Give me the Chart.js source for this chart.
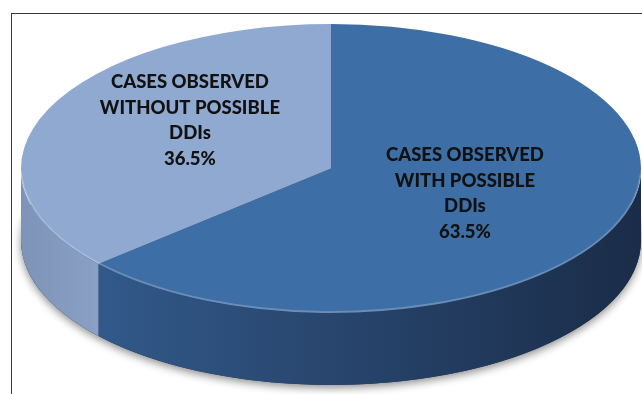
<!DOCTYPE html>
<html>
<head>
<meta charset="utf-8">
<script src="https://cdn.jsdelivr.net/npm/chart.js@4.4.1/dist/chart.umd.min.js"></script>
<style>
  html, body { margin: 0; padding: 0; background: #fff; width: 642px; height: 394px; overflow: hidden; }
  #frame { position: absolute; left: 11px; top: 13px; width: 640px; height: 390px;
           border-top: 1.5px solid #3a3a3a; border-left: 1.5px solid #3a3a3a; }
  #wrap { position: absolute; left: 0; top: 0; width: 642px; height: 394px; }
</style>
</head>
<body>
<div id="frame"></div>
<div id="wrap"><canvas id="pie"></canvas></div>
<script>
// data
const categories = ['CASES OBSERVED WITH POSSIBLE DDIs', 'CASES OBSERVED WITHOUT POSSIBLE DDIs'];
const labelLines = [
  ['CASES OBSERVED', 'WITH POSSIBLE', 'DDIs'],
  ['CASES OBSERVED', 'WITHOUT POSSIBLE', 'DDIs']
];
const percentages = [63.5, 36.5];

// look
const topColors = ['#3d6ea5', '#8fa9d0'];
const sideColors = [['#32598a', '#1a2c48'], ['#7d94b8', '#8aa0c4']];
const labelAnchor = [[0.432, 0.173], [-0.455, -0.332]]; // in units of the ellipse radii
const EL = { cx: 331, cy: 168.5, rx: 310, ry: 144.5, depth: 72 };

const pie3d = {
  id: 'pie3d',
  beforeDatasetsDraw(chart) {
    const ctx = chart.ctx;
    const arcs = chart.getDatasetMeta(0).data;
    const { cx, cy, rx, ry, depth } = EL;

    // soft shadow under the base
    ctx.save();
    ctx.shadowColor = 'rgba(0,0,0,0.45)';
    ctx.shadowBlur = 8;
    ctx.shadowOffsetY = 3;
    ctx.fillStyle = '#1d3350';
    ctx.beginPath();
    ctx.ellipse(cx, cy + depth, rx, ry, 0, 0, Math.PI * 2);
    ctx.fill();
    ctx.restore();

    // front walls of each slice
    arcs.forEach((arc, i) => {
      const a0 = Math.max(arc.startAngle, 0);
      const a1 = Math.min(arc.endAngle, Math.PI);
      if (a1 <= a0) return;
      const x0 = cx + rx * Math.cos(a1), x1 = cx + rx * Math.cos(a0);
      const g = ctx.createLinearGradient(Math.min(x0, x1), 0, Math.max(x0, x1), 0);
      g.addColorStop(0, sideColors[i][0]);
      g.addColorStop(1, sideColors[i][1]);
      ctx.beginPath();
      ctx.ellipse(cx, cy, rx, ry, 0, a0, a1, false);
      ctx.lineTo(cx + rx * Math.cos(a1), cy + depth + ry * Math.sin(a1));
      ctx.ellipse(cx, cy + depth, rx, ry, 0, a1, a0, true);
      ctx.closePath();
      ctx.fillStyle = g;
      ctx.fill();
    });

    // squash the round pie into the top ellipse
    const r = arcs[0].outerRadius;
    ctx.save();
    ctx.translate(cx, cy);
    ctx.scale(rx / r, ry / r);
    ctx.translate(-arcs[0].x, -arcs[0].y);
  },
  afterDatasetsDraw(chart) {
    const ctx = chart.ctx;
    ctx.restore();
    const { cx, cy, rx, ry } = EL;

    // light rim on the front edge of the top
    ctx.save();
    ctx.strokeStyle = 'rgba(255,255,255,0.22)';
    ctx.lineWidth = 2;
    ctx.beginPath();
    ctx.ellipse(cx, cy - 1, rx, ry, 0, 0.05, Math.PI - 0.05);
    ctx.stroke();
    ctx.restore();

    // labels
    ctx.save();
    ctx.fillStyle = '#111';
    ctx.font = '900 18.5px Lato, "Liberation Sans", sans-serif';
    ctx.textAlign = 'center';
    ctx.textBaseline = 'middle';
    const lh = 25.5;
    percentages.forEach((v, i) => {
      const lines = labelLines[i].concat(v.toFixed(1) + '%');
      const x = cx + labelAnchor[i][0] * rx;
      const y = cy + labelAnchor[i][1] * ry - (lines.length - 1) * lh / 2;
      lines.forEach((t, k) => ctx.fillText(t, x, y + k * lh));
    });
    ctx.restore();
  }
};

new Chart(document.getElementById('pie'), {
  type: 'pie',
  data: {
    labels: categories,
    datasets: [{
      data: percentages,
      backgroundColor: topColors,
      borderWidth: 0,
      clip: false
    }]
  },
  options: {
    responsive: true,
    maintainAspectRatio: false,
    animation: false,
    rotation: 0,
    layout: { padding: 0 },
    plugins: {
      legend: { display: false },
      tooltip: { enabled: false }
    }
  },
  plugins: [pie3d]
});
</script>
</body>
</html>
